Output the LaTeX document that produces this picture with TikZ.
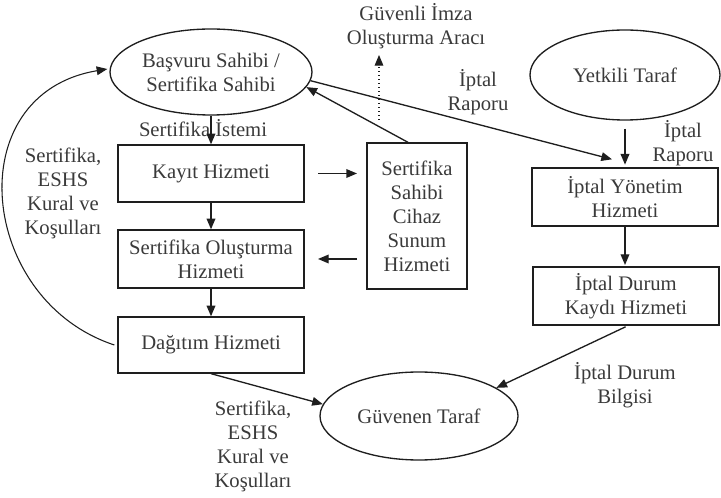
\documentclass[tikz,border=0pt]{standalone}
\usepackage{fontspec}
\setmainfont{Liberation Serif}
\usetikzlibrary{shapes.geometric,arrows.meta,calc}
\definecolor{txt}{HTML}{3A3A3A}
\definecolor{ln}{HTML}{1E1E1E}
\begin{document}
\begin{tikzpicture}[x=0.75pt,y=-0.75pt,
 every node/.style={font=\fontsize{15.5}{18}\selectfont, text=txt},
 box/.style={draw=ln, line width=1pt, rectangle, inner sep=0pt, align=center},
 oval/.style={draw=ln, line width=1pt, ellipse, inner sep=0pt, align=center},
 arr/.style={draw=ln, line width=1pt, -{Triangle[length=8pt,width=6.5pt]}},
 lbl/.style={align=center, inner sep=0pt}]
\useasboundingbox (0,0) rectangle (721,498);

% nodes
\node[oval, minimum width=151.5pt, minimum height=64.5pt] (bas) at (211,72) {Başvuru Sahibi /\\Sertifika Sahibi};
\node[oval, minimum width=142.5pt, minimum height=67.5pt] (yt) at (625,75) {Yetkili Taraf};
\node[oval, minimum width=148.5pt, minimum height=66pt] (guv) at (419,416) {Güvenen Taraf};

\node[box, minimum width=139.5pt, minimum height=42.75pt] (kayit) at (211,173.5) {Kayıt Hizmeti};
\node[box, minimum width=139.5pt, minimum height=43.5pt] (olus) at (211,259) {Sertifika Oluşturma\\Hizmeti};
\node[box, minimum width=139.5pt, minimum height=42pt] (dag) at (211,345) {Dağıtım Hizmeti};
\node[box, minimum width=75pt, minimum height=109.5pt] (cihaz) at (417,216) {Sertifika\\Sahibi\\Cihaz\\Sunum\\Hizmeti};
\node[box, minimum width=139.5pt, minimum height=43.5pt] (iy) at (625,197) {İptal Yönetim\\Hizmeti};
\node[box, minimum width=139.5pt, minimum height=43.5pt] (idk) at (626,296) {İptal Durum\\Kaydı Hizmeti};

% labels
\node[lbl] (listem) at (203,128) {Sertifika İstemi};
\node[lbl] (lleft) at (63,193) {Sertifika,\\ESHS\\Kural ve\\Koşulları};
\node[lbl] (lbottom) at (253,446) {Sertifika,\\ESHS\\Kural ve\\Koşulları};
\node[lbl] (lgua) at (416,26) {Güvenli İmza\\Oluşturma Aracı};
\node[lbl] (lrap1) at (478,92) {İptal\\Raporu};
\node[lbl] (lrap2) at (683,143) {İptal\\Raporu};
\node[lbl] (lbil) at (625,385) {İptal Durum\\Bilgisi};

\coordinate (gsA) at (379,120);
\coordinate (gsB) at (379,55);
\coordinate (iyin) at ($(iy.north)+(-13,-8)$);

% connectors
\draw[arr] (bas.south) -- (kayit.north);
\draw[arr] (kayit.south) -- (olus.north);
\draw[arr] (olus.south) -- (dag.north);
\draw[arr, shorten <=10pt, shorten >=7pt] (kayit.east) -- (kayit.east -| cihaz.west);
\draw[arr, shorten <=7pt, shorten >=10pt] (olus.east -| cihaz.west) -- (olus.east);
\draw[arr] ($(cihaz.north)+(-9,0)$) -- (bas.-9);
\draw[arr] (bas.-5) -- (iyin);
\draw[arr, dotted, line width=0.8pt] (gsA) -- (gsB);
\draw[arr, shorten <=6pt, shorten >=2pt] (yt.south) -- (iy.north -| yt.south);
\draw[arr, shorten >=1pt] (iy.south) -- (iy.south |- idk.north);
\draw[arr, shorten <=2pt] ($(idk.south)+(2,0)$) -- (guv.20);
\draw[arr] (dag.south) -- (guv.173);
\draw[arr, line width=0.8pt] ($(dag.west)+(-3,0)$) .. controls (-22,300) and (-42,94) .. ($(bas.west)+(-2,-3)$);
\end{tikzpicture}
\end{document}
